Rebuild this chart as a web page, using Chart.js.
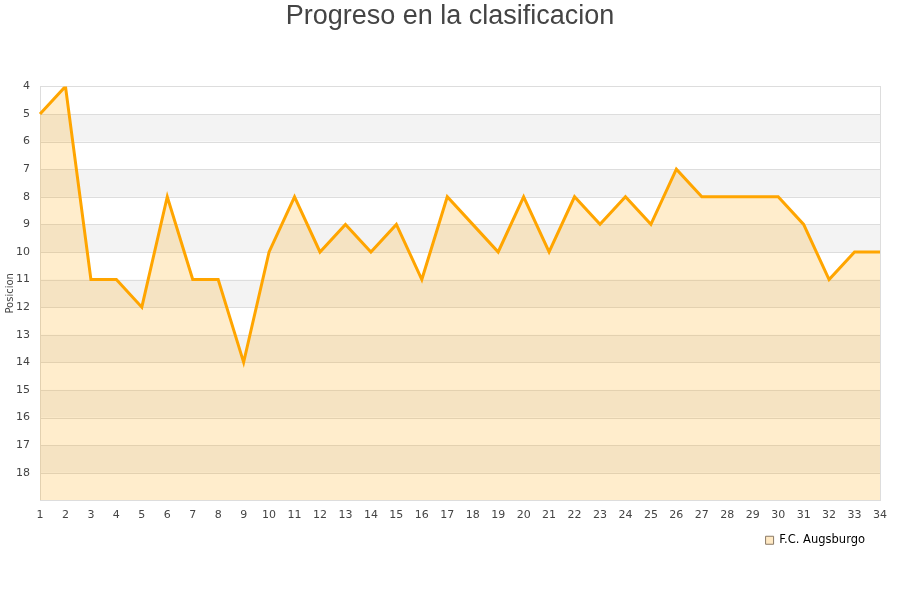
<!DOCTYPE html>
<html>
<head>
<meta charset="utf-8">
<script src="https://cdn.jsdelivr.net/npm/chart.js@4/dist/chart.umd.min.js"></script>
<style>
	html, body { margin: 0; padding: 0; background: #fff; }
	#wrap { width: 900px; height: 600px; }
</style>
</head>
<body>
<div id="wrap"><canvas id="chart"></canvas></div>
<script>
// jornadas y posiciones
var jornadas = ["1", "2", "3", "4", "5", "6", "7", "8", "9", "10", "11", "12", "13", "14", "15", "16", "17",
	"18", "19", "20", "21", "22", "23", "24", "25", "26", "27", "28", "29", "30", "31", "32", "33", "34"];
var posiciones = [5, 4, 11, 11, 12, 8, 11, 11, 14, 10, 8, 10, 9, 10, 9, 11, 8, 9,
	10, 8, 10, 8, 9, 8, 9, 7, 8, 8, 8, 8, 9, 11, 10, 10];
var equipo = "F.C. Augsburgo";
var posMin = 4;
var posMax = 19;

// franjas grises alternas detras de la linea
var bandas = {
	id: "bandas",
	beforeDatasetsDraw: function(chart){
		var ctx = chart.ctx, area = chart.chartArea, y = chart.scales.y;
		ctx.save();
		ctx.fillStyle = "#f3f3f3";
		for (var v = posMin + 1; v < posMax; v += 2) {
			var y1 = y.getPixelForValue(v), y2 = y.getPixelForValue(v + 1);
			ctx.fillRect(area.left, y1, area.right - area.left, y2 - y1);
		}
		ctx.strokeStyle = "#dddddd";
		ctx.lineWidth = 1;
		for (var g = posMin; g <= posMax; g++) {
			var py = Math.round(y.getPixelForValue(g)) + 0.5;
			ctx.beginPath();
			ctx.moveTo(area.left, py);
			ctx.lineTo(area.right, py);
			ctx.stroke();
		}
		ctx.strokeRect(Math.round(area.left) + 0.5, Math.round(area.top) + 0.5,
			Math.round(area.right - area.left), Math.round(area.bottom - area.top));
		ctx.restore();
	}
};

new Chart(document.getElementById("chart"), {
	type: "line",
	data: {
		labels: jornadas,
		datasets: [{
			label: equipo,
			data: posiciones,
			borderColor: "#ffa500",
			backgroundColor: "rgba(255,165,0,0.2)",
			borderWidth: 3,
			pointRadius: 0,
			tension: 0,
			fill: { value: posMax }
		}]
	},
	options: {
		responsive: true,
		maintainAspectRatio: false,
		animation: false,
		layout: { padding: { left: 2, right: 2, top: 0, bottom: 44 } },
		plugins: {
			title: {
				display: true,
				text: "Progreso en la clasificacion",
				color: "#444",
				font: { family: "Liberation Sans", size: 27, weight: "normal" },
				padding: { top: 0, bottom: 54 }
			},
			legend: {
				position: "bottom",
				align: "end",
				fullSize: false,
				labels: {
					boxWidth: 8,
					boxHeight: 8,
					padding: 15,
					color: "#000",
					font: { family: "DejaVu Sans", size: 11.5 },
					generateLabels: function(chart){
						return chart.data.datasets.map(function(ds, i){
							return {
								text: ds.label,
								fillStyle: "#ffe9c4",
								strokeStyle: "#8a7a66",
								lineWidth: 1,
								datasetIndex: i
							};
						});
					}
				}
			},
			tooltip: { enabled: false }
		},
		scales: {
			x: {
				offset: false,
				grid: { display: false },
				border: { display: false },
				afterFit: function(scale){ scale.height -= 2; },
				ticks: {
					color: "#444",
					font: { family: "DejaVu Sans", size: 11 },
					maxRotation: 0,
					autoSkip: false,
					padding: 0
				}
			},
			y: {
				reverse: true,
				min: posMin,
				max: posMax,
				grid: { display: false, drawTicks: false },
				border: { display: false },
				afterFit: function(scale){ scale.width = 38; },
				title: {
					display: true,
					text: "Posicion",
					color: "#444",
					font: { family: "DejaVu Sans", size: 10 },
					padding: 2
				},
				ticks: {
					stepSize: 1,
					color: "#444",
					font: { family: "DejaVu Sans", size: 11 },
					padding: 10,
					callback: function(v){ return v === posMax ? "" : v; }
				}
			},
			y2: {
				position: "right",
				min: posMin,
				max: posMax,
				grid: { display: false },
				border: { display: false },
				ticks: { display: false },
				afterFit: function(scale){ scale.width = 18; }
			}
		}
	},
	plugins: [bandas]
});
</script>
</body>
</html>
